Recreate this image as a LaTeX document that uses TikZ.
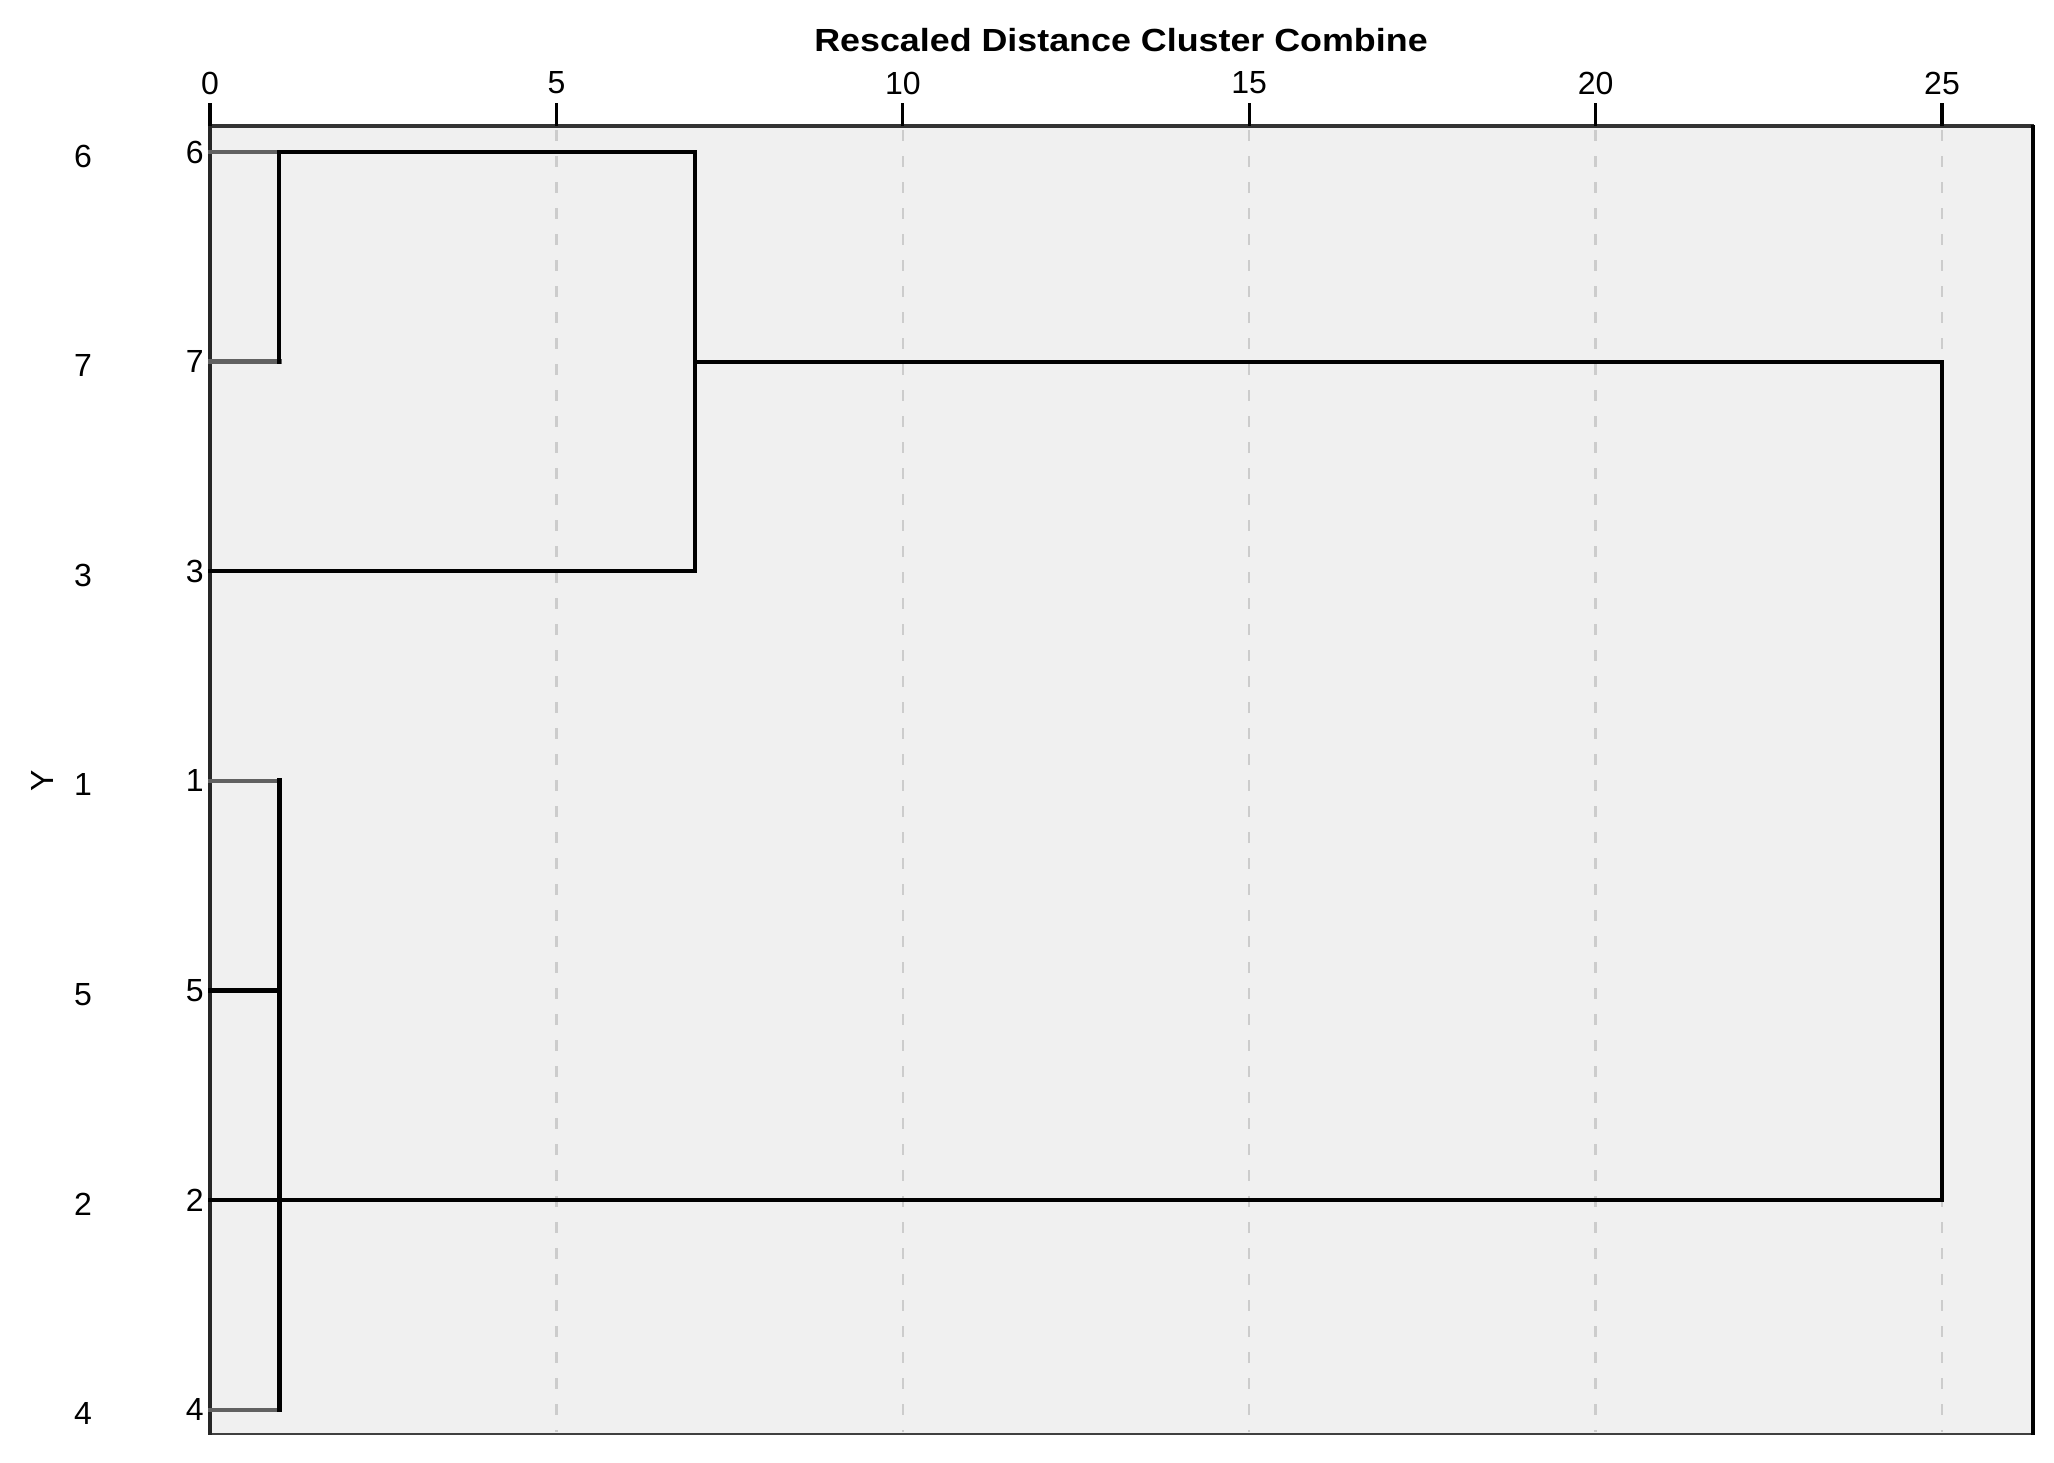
\documentclass[tikz,border=0pt]{standalone}
\usepackage{fontspec}
\setmainfont{Liberation Sans}
\begin{document}
\begin{tikzpicture}[x=0.5pt,y=-0.5pt,
  lab/.style={inner sep=0pt,font=\fontsize{16}{19}\selectfont},
  tick/.style={line width=1.6pt,black},
  gridln/.style={line width=1.2pt,color=gray!40,dash pattern=on 5.5pt off 7.5pt},
  dend/.style={line width=2pt,black,line cap=rect},
  leaf/.style={line width=2pt,black!62,line cap=rect}]
\useasboundingbox (0,0) rectangle (2054,1462);
\def\ux{69.28}
% plot area
\fill[black!6] (210,126) rectangle (2033,1434);
\foreach \v in {5,10,...,25}
  \draw[gridln] ({210+\ux*\v},130) -- ({210+\ux*\v},1432);
% frame
\draw[line width=1.4pt,black!75] (210,1434) -- (2033,1434);
\draw[line width=2.2pt,black!80] (208,126) -- (2034,126);
\draw[line width=2.2pt,black] (2033,125) -- (2033,1435);
\draw[line width=2.4pt,black!85] (210,125) -- (210,1435);
% ticks and labels
\foreach \v in {0,5,...,25} {
  \draw[tick] ({210+\ux*\v},103) -- ({210+\ux*\v},126);
  \node[lab] (t\v) at ({210+\ux*\v},83) {\v};
}
\node[inner sep=0pt,font=\fontsize{16}{19}\selectfont\bfseries,xscale=1.12] (title) at (1121,40) {Rescaled Distance Cluster Combine};
% row coordinates
\def\rA{152}\def\rB{361.6}\def\rC{571.2}\def\rD{780.8}\def\rE{990.4}\def\rF{1200}\def\rG{1409.6}
\coordinate (a6) at (210,\rA); \coordinate (a7) at (210,\rB); \coordinate (a3) at (210,\rC);
\coordinate (a1) at (210,\rD); \coordinate (a5) at (210,\rE); \coordinate (a2) at (210,\rF);
\coordinate (a4) at (210,\rG);
\coordinate (m67t) at ({210+\ux},\rA); \coordinate (m67b) at ({210+\ux},\rB);
\coordinate (m3t) at ({210+7*\ux},\rA); \coordinate (m3b) at ({210+7*\ux},\rC);
\coordinate (m3m) at ({210+7*\ux},\rB);
\coordinate (mbt) at ({210+\ux},\rD); \coordinate (mb5) at ({210+\ux},\rE);
\coordinate (mb2) at ({210+\ux},\rF); \coordinate (mbb) at ({210+\ux},\rG);
\coordinate (ft) at ({210+25*\ux},\rB); \coordinate (fb) at ({210+25*\ux},\rF);
% leaf labels
\foreach \n/\r in {6/\rA,7/\rB,3/\rC,1/\rD,5/\rE,2/\rF,4/\rG} {
  \node[lab] (c\n) at (83,\r+4) {\n};
  \node[lab,anchor=east] (d\n) at (204,\r) {\n};
}
\node[lab,rotate=90] (ylab) at (42,781) {Y};
% dendrogram
\draw[leaf] (a6) -- (m67t);
\draw[leaf,line width=2.4pt] (a7) -- (m67b);
\draw[dend] (m67b) -- (m67t) -- (m3t) -- (m3b);
\draw[dend] (a3) -- (m3b);
\draw[dend] (m3m) -- (ft) -- (fb) -- (a2);
\draw[leaf] (a1) -- (mbt);
\draw[dend,line width=2.4pt] (a5) -- (mb5);
\draw[leaf] (a4) -- (mbb);
\draw[dend,line width=2.4pt] (mbt) -- (mbb);
\end{tikzpicture}
\end{document}
